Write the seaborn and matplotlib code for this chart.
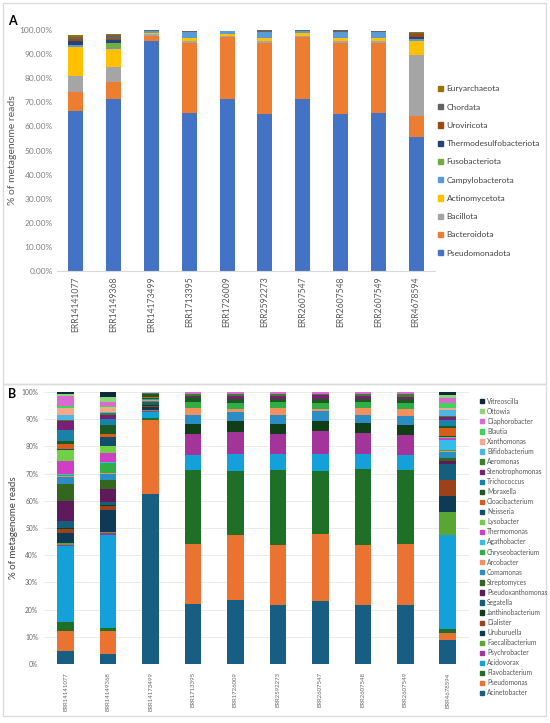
import numpy as np
import pandas as pd
import matplotlib
matplotlib.use("Agg")
import matplotlib.pyplot as plt
import seaborn as sns
from matplotlib.patches import Patch, Rectangle
from matplotlib.ticker import FuncFormatter

samples = ["ERR14141077", "ERR14149368", "ERR14173499", "ERR1713395", "ERR1726009",
           "ERR2592273", "ERR2607547", "ERR2607548", "ERR2607549", "ERR4678594"]

# ---- panel A: phyla (bottom -> top of stack)
phyla = ["Pseudomonadota", "Bacteroidota", "Bacillota", "Actinomycetota", "Campylobacterota",
         "Fusobacteriota", "Thermodesulfobacteriota", "Uroviricota", "Chordata", "Euryarchaeota"]
phyla_colors = ["#4472c4", "#ed7d31", "#a5a5a5", "#ffc000", "#5b9bd5",
                "#70ad47", "#264478", "#9e480e", "#636363", "#997300"]

a_err14141077 = [66.5, 7.9, 6.6, 12.1, 0.5, 0.2, 1.5, 0.8, 1.1, 0.6]
a_err14149368 = [71.4, 6.9, 6.2, 7.8, 0.4, 1.8, 1.4, 0.5, 1.4, 0.4]
a_err14173499 = [95.6, 1.9, 0.8, 0.6, 0.7, 0.0, 0.1, 0.0, 0.2, 0.0]
a_err1713395 = [65.7, 28.8, 1.1, 1.2, 2.4, 0.0, 0.1, 0.0, 0.4, 0.0]
a_err1726009 = [71.4, 25.6, 0.6, 0.9, 0.9, 0.0, 0.1, 0.0, 0.2, 0.0]
a_err2592273 = [65.1, 29.4, 1.1, 1.1, 2.5, 0.0, 0.1, 0.0, 0.5, 0.0]
a_err2607547 = [71.4, 25.6, 0.6, 1.0, 1.0, 0.0, 0.1, 0.0, 0.2, 0.0]
a_err2607548 = [65.1, 29.4, 0.9, 1.1, 2.7, 0.0, 0.1, 0.0, 0.5, 0.0]
a_err2607549 = [65.7, 28.8, 1.1, 1.1, 2.3, 0.0, 0.1, 0.0, 0.6, 0.0]
a_err4678594 = [55.6, 8.7, 25.2, 5.9, 0.7, 0.1, 0.7, 1.3, 0.5, 0.6]

# ---- panel B: genera (bottom -> top of stack)
genera = ["Acinetobacter", "Pseudomonas", "Flavobacterium", "Acidovorax", "Psychrobacter",
          "Faecalibacterium", "Uruburuella", "Dialister", "Janthinobacterium", "Segatella",
          "Pseudoxanthomonas", "Streptomyces", "Comamonas", "Arcobacter", "Chryseobacterium",
          "Agathobacter", "Thermomonas", "Lysobacter", "Neisseria", "Cloacibacterium",
          "Moraxella", "Trichococcus", "Stenotrophomonas", "Aeromonas", "Bifidobacterium",
          "Xanthomonas", "Blautia", "Diaphorobacter", "Ottowia", "Vitreoscilla"]
genera_colors = ["#175e82", "#eb7331", "#1d7026", "#14a0d8", "#a3349a",
                 "#5aa632", "#0e3a55", "#9c4119", "#103f17", "#145f7e",
                 "#5e1a5a", "#34661f", "#2a8dc6", "#f29060", "#2eae44",
                 "#33bdeb", "#cf3fc3", "#6fcf45", "#134d6c", "#d75d18",
                 "#1d5a22", "#1882aa", "#7a1f74", "#3e7d2c", "#4db6e6",
                 "#f4a98a", "#3fd45a", "#d86ad1", "#8cd67a", "#0c2b3a"]

b_err14141077 = [4.6, 7.6, 3.2, 27.8, 0.4, 0.8, 3.9, 1.3, 0.3, 2.8, 7.2, 6.1, 2.6, 0.4, 0.5,
                 0.5, 4.8, 3.8, 0.4, 1.8, 1.2, 4.0, 3.2, 0.6, 1.6, 2.6, 0.8, 3.6, 1.0, 0.6]
b_err14149368 = [3.7, 8.3, 1.2, 34.2, 0.6, 0.6, 8.2, 1.4, 0.2, 1.1, 5.0, 3.3, 2.0, 0.3, 3.9,
                 0.2, 3.4, 2.4, 3.5, 1.2, 3.3, 1.9, 1.8, 0.7, 0.3, 1.8, 0.5, 1.3, 1.9, 1.8]
b_err14173499 = [62.5, 27.2, 0.6, 2.3, 0.4, 0.3, 1.2, 0.4, 0.3, 0.6, 0.3, 0.4, 0.3, 0.3, 0.2,
                 0.1, 0.1, 0.1, 0.2, 0.2, 1.2, 0.3, 0.1, 0.1, 0.1, 0.1, 0.1, 0.0, 0.0, 0.0]
b_err1713395 = [22.0, 22.0, 27.3, 5.7, 7.5, 0.0, 0.0, 0.0, 3.8, 0.0, 0.0, 0.0, 3.2, 2.7, 2.3,
                0.0, 0.0, 0.0, 0.0, 0.0, 1.5, 0.0, 0.6, 0.7, 0.0, 0.0, 0.0, 0.7, 0.0, 0.0]
b_err1726009 = [23.5, 24.1, 23.4, 6.2, 8.1, 0.0, 0.0, 0.0, 4.2, 0.0, 0.0, 0.0, 3.3, 0.8, 2.4,
                0.0, 0.0, 0.0, 0.0, 0.0, 1.5, 0.0, 1.0, 0.7, 0.0, 0.0, 0.0, 0.8, 0.0, 0.0]
b_err2592273 = [21.8, 22.0, 27.7, 5.6, 7.6, 0.0, 0.0, 0.0, 3.7, 0.0, 0.0, 0.0, 3.0, 2.9, 2.0,
                0.0, 0.0, 0.0, 0.0, 0.0, 1.3, 0.0, 0.8, 1.0, 0.0, 0.0, 0.0, 0.6, 0.0, 0.0]
b_err2607547 = [23.3, 24.4, 23.3, 6.1, 8.5, 0.0, 0.0, 0.0, 3.8, 0.0, 0.0, 0.0, 3.6, 0.8, 2.2,
                0.0, 0.0, 0.0, 0.0, 0.0, 1.6, 0.0, 1.2, 0.6, 0.0, 0.0, 0.0, 0.6, 0.0, 0.0]
b_err2607548 = [21.8, 22.0, 27.8, 5.6, 7.6, 0.0, 0.0, 0.0, 3.7, 0.0, 0.0, 0.0, 2.9, 2.9, 2.0,
                0.0, 0.0, 0.0, 0.0, 0.0, 1.3, 0.0, 0.8, 0.9, 0.0, 0.0, 0.0, 0.7, 0.0, 0.0]
b_err2607549 = [21.8, 22.3, 27.1, 5.5, 7.5, 0.0, 0.0, 0.0, 3.8, 0.0, 0.0, 0.0, 3.2, 2.6, 2.2,
                0.0, 0.0, 0.0, 0.0, 0.0, 1.4, 0.0, 0.9, 0.9, 0.0, 0.0, 0.0, 0.8, 0.0, 0.0]
b_err4678594 = [8.8, 2.5, 1.4, 34.7, 0.2, 8.2, 6.0, 5.8, 0.2, 5.7, 1.1, 1.0, 2.5, 0.2, 0.4,
                3.7, 0.6, 0.4, 0.6, 2.9, 0.6, 2.2, 1.0, 0.6, 2.1, 0.6, 1.8, 2.1, 1.0, 1.1]

df_a = pd.DataFrame([a_err14141077, a_err14149368, a_err14173499, a_err1713395, a_err1726009,
                     a_err2592273, a_err2607547, a_err2607548, a_err2607549, a_err4678594],
                    index=samples, columns=phyla)
df_b = pd.DataFrame([b_err14141077, b_err14149368, b_err14173499, b_err1713395, b_err1726009,
                     b_err2592273, b_err2607547, b_err2607548, b_err2607549, b_err4678594],
                    index=samples, columns=genera)

sns.set_theme(style="white")
plt.rcParams["font.family"] = ["Lato", "DejaVu Sans"]


def stacked(ax, df, colors, width):
    # draw cumulative totals, tallest first, so each layer shows as a segment
    cum = df.cumsum(axis=1)
    for col, c in reversed(list(zip(df.columns, colors))):
        sns.barplot(x=list(df.index), y=cum[col].values, color=c, width=width,
                    saturation=1, errorbar=None, linewidth=0, ax=ax)


fig = plt.figure(figsize=(5.5, 7.23), dpi=100)

# panel frames
fig.add_artist(Rectangle((3 / 550, 1 - 384 / 723), 543 / 550, 381 / 723,
                         transform=fig.transFigure, fill=False, ec="#dcdcdc", lw=1))
fig.add_artist(Rectangle((3 / 550, 1 - 716 / 723), 543 / 550, 332 / 723,
                         transform=fig.transFigure, fill=False, ec="#dcdcdc", lw=1))

# ---------------- A
ax1 = fig.add_axes([57 / 550, 1 - 271 / 723, 378 / 550, 241 / 723])
stacked(ax1, df_a, phyla_colors, 0.4)
ax1.set_ylim(0, 100)
ax1.set_yticks(np.arange(0, 101, 10))
ax1.yaxis.set_major_formatter(FuncFormatter(lambda v, p: f"{v:.2f}%"))
ax1.tick_params(axis="y", labelsize=6, colors="#7f7f7f", length=0, pad=3)
ax1.tick_params(axis="x", labelsize=6.2, labelcolor="#595959", length=0, rotation=90, pad=4)
ax1.set_xlabel("")
ax1.set_ylabel("% of metagenome reads", fontsize=7.5, color="#595959", labelpad=2)
for s in ["top", "right", "left"]:
    ax1.spines[s].set_visible(False)
ax1.spines["bottom"].set_color("#d9d9d9")
ax1.spines["bottom"].set_linewidth(0.8)
fig.text(8 / 550, 1 - 25 / 723, "A", fontsize=9, fontweight="bold", color="black")

handles_a = [Patch(color=c) for c in phyla_colors][::-1]
fig.legend(handles_a, phyla[::-1], loc="center left", bbox_to_anchor=(0.783, 0.7635),
           frameon=False, fontsize=6.0, handlelength=0.6, handleheight=0.6,
           handletextpad=0.4, labelspacing=1.35, labelcolor="#404040")

# ---------------- B
ax2 = fig.add_axes([44.4 / 550, 1 - 664 / 723, 424.6 / 550, 272 / 723])
ax2.set_axisbelow(True)
ax2.yaxis.grid(True, color="#ebebeb", linewidth=0.7)
stacked(ax2, df_b, genera_colors, 0.39)
ax2.set_ylim(0, 100)
ax2.set_yticks(np.arange(0, 101, 10))
ax2.yaxis.set_major_formatter(FuncFormatter(lambda v, p: f"{v:.0f}%"))
ax2.tick_params(axis="y", labelsize=4.8, colors="#666666", length=0, pad=4.5)
ax2.tick_params(axis="x", labelsize=4.3, labelcolor="#666666", length=0, rotation=90, pad=6)
ax2.set_xlabel("")
ax2.set_ylabel("% of metagenome reads", fontsize=7, color="#404040", labelpad=2)
for s in ax2.spines.values():
    s.set_visible(False)
fig.text(8 / 550, 1 - 398 / 723, "B", fontsize=9, fontweight="bold", color="black")

handles_b = [Patch(color=c) for c in genera_colors][::-1]
fig.legend(handles_b, genera[::-1], loc="center left", bbox_to_anchor=(0.862, 0.2434),
           frameon=False, fontsize=4.8, handlelength=0.6, handleheight=0.6,
           handletextpad=0.45, labelspacing=0.46, labelcolor="#555555")

fig.savefig("out.png", dpi=100)
